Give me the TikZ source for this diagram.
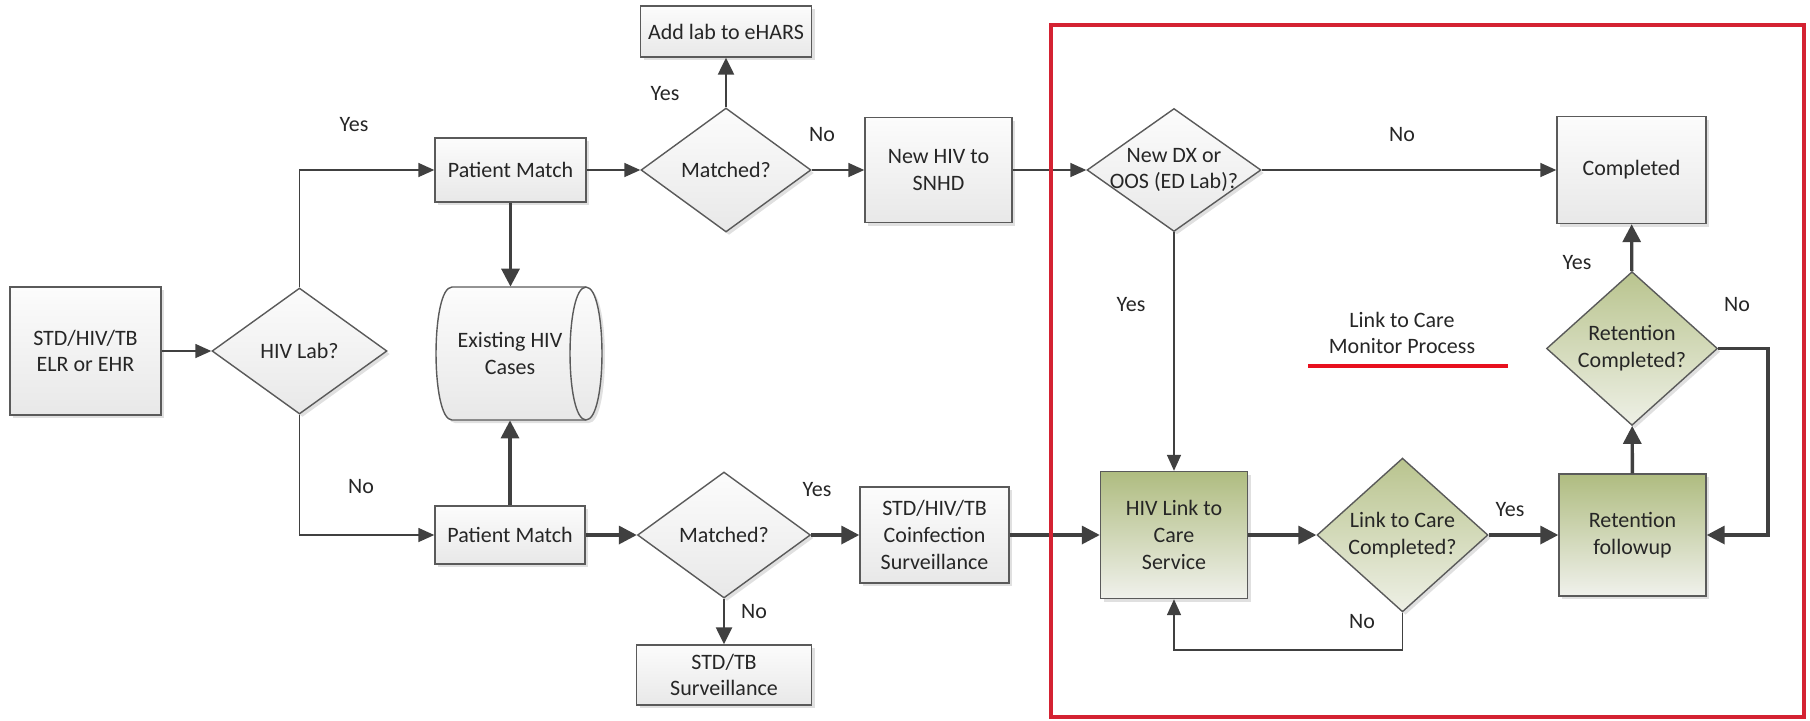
\documentclass[tikz,border=0pt]{standalone}
\usepackage{fontspec}
\setmainfont{Carlito}
\usepackage{xcolor}
\usepackage{tikz}
\usetikzlibrary{shapes.geometric,arrows.meta,shadows,positioning,calc}

\definecolor{boxline}{HTML}{5A5A5A}
\definecolor{arrowgray}{HTML}{404040}
\definecolor{boxtop}{HTML}{FCFCFC}
\definecolor{boxbot}{HTML}{E8E8E8}
\definecolor{greentop}{HTML}{AFBC80}
\definecolor{greenbot}{HTML}{F0F1EC}
\definecolor{diagtop}{HTML}{B9C48E}
\definecolor{diagbot}{HTML}{EEF0E6}
\definecolor{framered}{HTML}{D42232}
\definecolor{markred}{HTML}{E8101E}

\tikzset{
  txt/.style={font=\fontsize{11}{13.4}\selectfont, text=black!85, align=center},
  shade/.style={drop shadow={shadow xshift=1.5pt, shadow yshift=-1.5pt, fill=black, opacity=0.12}},
  procbox/.style={txt, draw=boxline, line width=0.7pt, top color=boxtop, bottom color=boxbot, shade, inner sep=2pt},
  decision/.style={procbox, diamond, inner sep=0pt},
  greenbox/.style={procbox, top color=greentop, bottom color=greenbot},
  greendec/.style={decision, top color=diagtop, bottom color=diagbot},
  flow/.style={draw=arrowgray, line width=0.8pt, -{Triangle[length=8pt,width=7pt]}},
  midflow/.style={flow, line width=1.2pt, -{Triangle[length=8.5pt,width=8pt]}},
  mainflow/.style={flow, line width=1.7pt, -{Triangle[length=9pt,width=9pt]}},
  lbl/.style={txt}
}

\begin{document}
\begin{tikzpicture}[x=0.5pt, y=-0.5pt]
    \useasboundingbox (0,0) rectangle (1810,720);

    % Input and first decision
    \node[procbox, minimum width=75.5pt, minimum height=64pt] (src) at (85.5,351) {STD/HIV/TB\\ELR or EHR};
    \node[decision, minimum width=87.5pt, minimum height=63pt] (hivlab) at (299.5,351) {HIV Lab?};

    % Upper row (HIV lab)
    \node[procbox, minimum width=75.5pt, minimum height=32pt] (pm1) at (510.5,170) {Patient Match};
    \node[decision, minimum width=85pt, minimum height=62pt] (m1) at (726,170) {Matched?};
    \node[procbox, minimum width=85.5pt, minimum height=25.5pt] (addlab) at (726,31.5) {Add lab to eHARS};
    \node[procbox, minimum width=73.5pt, minimum height=52.5pt] (snhd) at (938.5,170) {New HIV to\\SNHD};
    \node[decision, minimum width=87pt, minimum height=61.5pt,
          label={[txt]center:New DX or\\OOS (ED Lab)?}] (newdx) at (1174,170) {};
    \node[procbox, minimum width=74.5pt, minimum height=53.5pt] (completed) at (1631.5,170) {Completed};

    % Existing cases store
    \node[minimum width=67pt, minimum height=66.5pt] (cases) at (519,353.5) {};
    \path[draw=boxline, line width=0.7pt, top color=boxtop, bottom color=boxbot, shade]
        (452,287) -- (586,287) .. controls (607.3,287) and (607.3,420) .. (586,420)
        -- (452,420) .. controls (430.7,420) and (430.7,287) .. (452,287) -- cycle;
    \draw[boxline, line width=0.7pt] (586,287) .. controls (564.7,287) and (564.7,420) .. (586,420);
    \node[txt] (casestxt) at (510,353.5) {Existing HIV\\Cases};

    % Lower row (non HIV lab)
    \node[procbox, minimum width=75pt, minimum height=29pt] (pm2) at (510,535) {Patient Match};
    \node[decision, minimum width=86.5pt, minimum height=63pt] (m2) at (724,535) {Matched?};
    \node[procbox, minimum width=87.5pt, minimum height=30pt] (surv) at (724,675) {STD/TB\\Surveillance};
    \node[procbox, minimum width=74.5pt, minimum height=48pt] (coinf) at (934.5,535) {STD/HIV/TB\\Coinfection\\Surveillance};

    % Link to care monitor process
    \node[greenbox, minimum width=73.5pt, minimum height=63.5pt] (link) at (1174,535) {HIV Link to\\Care\\Service};
    \node[greendec, minimum width=85.5pt, minimum height=60.5pt] (lcc) at (1402.5,535) {Link to Care\\Completed?};
    \node[greenbox, minimum width=73.5pt, minimum height=61pt] (retf) at (1632.5,535) {Retention\\followup};
    \node[greendec, minimum width=85.5pt, minimum height=60.5pt] (retc) at (1632,348.5) {Retention\\Completed?};
    \node[txt] (monitor) at (1402,333) {Link to Care\\Monitor Process};
    \draw[markred, line width=2pt] (1308,366) -- (1508,366);

    \coordinate (rloop) at (1768,535);
    \coordinate (bloop) at (1402.5,650);

    % Connectors
    \draw[flow] (src) -- (hivlab);
    \draw[flow] (hivlab.north) |- (pm1);
    \draw[flow] (hivlab.south) |- (pm2);
    \draw[flow] (pm1) -- (m1);
    \draw[mainflow] (pm1.south) -- (pm1.south |- cases.north);
    \draw[midflow] (m1) -- (addlab);
    \draw[flow] (m1) -- (snhd);
    \draw[flow] (snhd) -- (newdx);
    \draw[flow] (newdx) -- (completed);
    \draw[flow] (newdx) -- (link);
    \draw[mainflow] (pm2.north) -- (pm2.north |- cases.south);
    \draw[mainflow] (pm2) -- (m2);
    \draw[mainflow] (m2) -- (coinf);
    \draw[midflow] (m2) -- (surv);
    \draw[mainflow] (coinf) -- (link);
    \draw[mainflow] (link) -- (lcc);
    \draw[mainflow] (lcc) -- (retf);
    \draw[mainflow] (retf) -- (retc);
    \draw[mainflow] (retc) -- (completed);
    \draw[mainflow] (retc.east) -| (rloop) -- (retf.east);
    \draw[flow] (lcc.south) -- (bloop) -| (link.south);

    % Branch labels
    \node[lbl] (y1) at (354,125) {Yes};
    \node[lbl] (n1) at (361,487) {No};
    \node[lbl] (y2) at (665,94) {Yes};
    \node[lbl] (n2) at (822,135) {No};
    \node[lbl] (y3) at (817,490) {Yes};
    \node[lbl] (n3) at (754,612) {No};
    \node[lbl] (n4) at (1402,135) {No};
    \node[lbl] (y4) at (1131,305) {Yes};
    \node[lbl] (y5) at (1577,263) {Yes};
    \node[lbl] (n5) at (1737,305) {No};
    \node[lbl] (y6) at (1510,510) {Yes};
    \node[lbl] (n6) at (1362,622) {No};

    % Monitor frame
    \draw[framered, line width=1.6pt] (1051,25) rectangle (1804,717);
\end{tikzpicture}
\end{document}
